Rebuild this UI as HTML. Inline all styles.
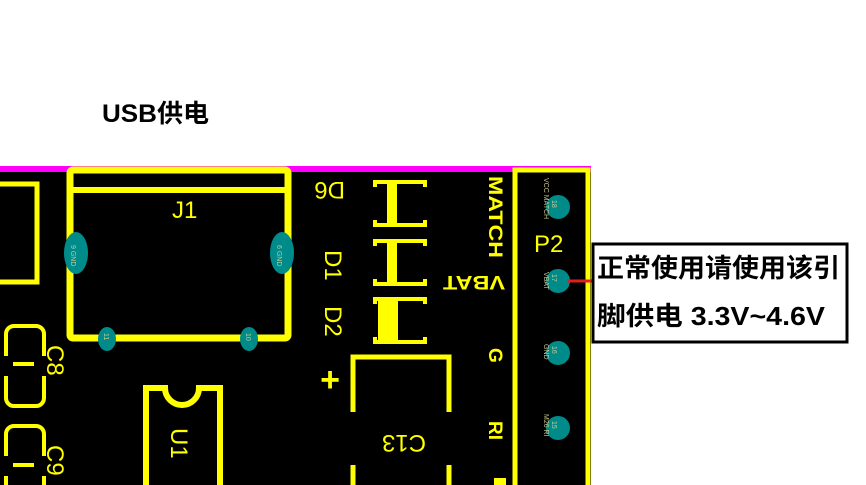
<!DOCTYPE html>
<html><head><style>
html,body{margin:0;padding:0;background:#fff;width:866px;height:485px;overflow:hidden}
svg{display:block}
.y{fill:none;stroke:#ffff00}
.t{font-family:"Liberation Sans",sans-serif;fill:#ffff00}
.p{font-family:"Liberation Sans",sans-serif;fill:#c8c890;font-size:7px}
.cn{font-family:"Liberation Sans","Noto Sans CJK SC",sans-serif;font-weight:bold;fill:#000}
</style></head><body>
<svg width="866" height="485" xmlns="http://www.w3.org/2000/svg">
<text x="102" y="122" class="cn" font-size="25" textLength="107" lengthAdjust="spacingAndGlyphs">USB供电</text>
<rect x="0" y="166" width="591" height="319" fill="#000"/>
<rect x="0" y="166" width="591" height="6" fill="#ff00ff"/>
<polyline class="y" stroke-width="5" points="0,184 37,184 37,282 0,282"/>
<rect x="70" y="170" width="218" height="168" rx="3" class="y" stroke-width="7"/>
<line x1="70" y1="190" x2="288" y2="190" class="y" stroke-width="6"/>
<text x="172" y="218" class="t" font-size="24">J1</text>
<ellipse cx="76" cy="253" rx="12" ry="21" fill="#008b8b"/>
<ellipse cx="282" cy="253" rx="12" ry="21" fill="#008b8b"/>
<ellipse cx="107" cy="339" rx="9" ry="12" fill="#008b8b"/>
<ellipse cx="249" cy="339" rx="9" ry="12" fill="#008b8b"/>
<text class="p" transform="translate(71,245) rotate(90)">9 GND</text>
<text class="p" transform="translate(277,245) rotate(90)">6 GND</text>
<text class="p" font-size="10" transform="translate(104,333) rotate(90)">11</text>
<text class="p" font-size="10" transform="translate(246,333) rotate(90)">10</text>
<path class="y" stroke-width="4" d="M6,356 v-22 a8,8 0 0 1 8,-8 h22 a8,8 0 0 1 8,8 v22 M6,376 v22 a8,8 0 0 0 8,8 h22 a8,8 0 0 0 8,-8 v-22"/>
<line x1="13" y1="364" x2="34" y2="364" class="y" stroke-width="4"/>
<path class="y" stroke-width="4" d="M6,456 v-22 a8,8 0 0 1 8,-8 h22 a8,8 0 0 1 8,8 v22 M6,476 v22 M44,476 v22"/>
<line x1="13" y1="465" x2="34" y2="465" class="y" stroke-width="4"/>
<text class="t" font-size="24" transform="translate(47,345) rotate(90)">C8</text>
<text class="t" font-size="24" transform="translate(47,445) rotate(90)">C9</text>
<path class="y" stroke-width="6" d="M146,490 V388 H165 a17,17 0 0 0 34,0 H220 V490"/>
<text class="t" font-size="24" transform="translate(171,428) rotate(90)">U1</text>
<text class="t" font-size="24" transform="translate(345,182) rotate(180)">D6</text>
<text class="t" font-size="24" transform="translate(325,250) rotate(90)">D1</text>
<text class="t" font-size="24" transform="translate(325,306) rotate(90)">D2</text>
<g class="y" stroke-width="4">
<path d="M375,187 v-5 h50 v5 M375,220 v5 h50 v-5"/>
<path d="M375,246 v-5 h50 v5 M375,279 v5 h50 v-5"/>
<path d="M375,304 v-5 h50 v5 M375,337 v5 h50 v-5"/>
</g>
<rect x="387" y="182" width="10" height="43" fill="#ffff00"/>
<rect x="387" y="241" width="10" height="43" fill="#ffff00"/>
<rect x="378" y="299" width="20" height="43" fill="#ffff00"/>
<path class="y" stroke-width="5" d="M353,412 V357 H449 V412 M353,465 V490 M449,465 V490"/>
<text x="330" y="391" class="t" font-size="34" font-weight="bold" text-anchor="middle">+</text>
<text class="t" font-size="24" transform="translate(426,435) rotate(180)">C13</text>
<text class="t" font-size="19" font-weight="bold" transform="translate(489,176) rotate(90)" textLength="82" lengthAdjust="spacingAndGlyphs">MATCH</text>
<text class="t" font-size="19" font-weight="bold" transform="translate(505,276) rotate(180)" textLength="62" lengthAdjust="spacingAndGlyphs">VBAT</text>
<text class="t" font-size="19" font-weight="bold" transform="translate(489,348) rotate(90)">G</text>
<text class="t" font-size="19" font-weight="bold" transform="translate(489,421) rotate(90)">RI</text>
<rect x="494" y="478" width="12" height="7" fill="#ffff00"/>
<rect x="515" y="170" width="73" height="320" class="y" stroke-width="5"/>
<text x="534" y="252" class="t" font-size="24">P2</text>
<circle cx="558" cy="207" r="12" fill="#008b8b"/>
<circle cx="558" cy="281" r="12" fill="#008b8b"/>
<circle cx="558" cy="353" r="12" fill="#008b8b"/>
<circle cx="558" cy="428" r="12" fill="#008b8b"/>
<text class="p" transform="translate(544,178) rotate(90)">VCC MATCH</text>
<text class="p" transform="translate(552,200) rotate(90)">18</text>
<text class="p" transform="translate(544,272) rotate(90)">VBAT</text>
<text class="p" transform="translate(552,274) rotate(90)">17</text>
<text class="p" transform="translate(544,344) rotate(90)">GND</text>
<text class="p" transform="translate(552,346) rotate(90)">16</text>
<text class="p" transform="translate(544,414) rotate(90)">M26 RI</text>
<text class="p" transform="translate(552,421) rotate(90)">15</text>
<line x1="568" y1="281" x2="598" y2="281" stroke="#e02020" stroke-width="3"/>
<rect x="593" y="244" width="254" height="98" fill="#fff" stroke="#000" stroke-width="3"/>
<text x="597" y="277" class="cn" font-size="26" textLength="243" lengthAdjust="spacingAndGlyphs">正常使用请使用该引</text>
<text x="597" y="325" class="cn" font-size="26" textLength="228" lengthAdjust="spacingAndGlyphs">脚供电 3.3V~4.6V</text>
</svg>
</body></html>
